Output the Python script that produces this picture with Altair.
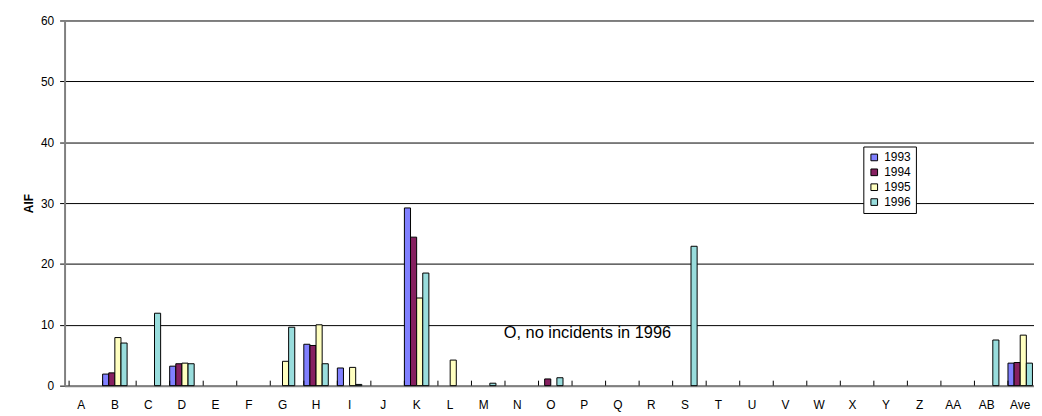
import altair as alt
import pandas as pd

categories = list("ABCDEFGHIJKLMNOPQRSTUVWXYZ") + ["AA", "AB", "Ave"]
years = ["1993", "1994", "1995", "1996"]
colors = ["#8080FF", "#862060", "#FFFFC0", "#99DDDD"]

#          A     B     C     D     E     F     G     H     I     J     K     L     M     N     O     P     Q     R     S     T     U     V     W     X     Y     Z     AA    AB    Ave
v1993 = [None, 1.9, None, 3.2, None, None, None, 6.8, 2.9, None, 29.2, None, None, None, None, None, None, None, None, None, None, None, None, None, None, None, None, None, 3.7]
v1994 = [None, 2.1, None, 3.6, None, None, None, 6.6, None, None, 24.4, None, None, None, 1.1, None, None, None, None, None, None, None, None, None, None, None, None, None, 3.8]
v1995 = [None, 7.9, None, 3.7, None, None, 4.0, 10.0, 3.0, None, 14.4, 4.2, None, None, None, None, None, None, None, None, None, None, None, None, None, None, None, None, 8.3]
v1996 = [None, 7.0, 11.9, 3.6, None, None, 9.6, 3.6, 0.2, None, 18.5, None, 0.4, None, 1.3, None, None, None, 22.9, None, None, None, None, None, None, None, None, 7.5, 3.7]

note_text = "O, no incidents in 1996"

rows = []
for yr, vals in zip(years, [v1993, v1994, v1995, v1996]):
    for c, v in zip(categories, vals):
        if v is not None:
            rows.append({"cat": c, "year": yr, "AIF": v})
df = pd.DataFrame(rows)
cat_df = pd.DataFrame({"cat": categories})

FONT = "Liberation Sans"

xscale = alt.Scale(domain=categories, range=[0, 980], paddingInner=0.27, paddingOuter=0.135)
xaxis = alt.Axis(title=None, labelAngle=0, ticks=False, domainColor="#808080",
                 domainWidth=2, labelPadding=14, labelFontSize=12, labelFont=FONT,
                 labelColor="black", grid=False)

bars = alt.Chart(df).mark_bar(stroke="black", strokeWidth=1).encode(
    x=alt.X("cat:N", sort=categories, scale=xscale, axis=xaxis),
    xOffset=alt.XOffset("year:N", sort=years, scale=alt.Scale(paddingInner=0, paddingOuter=0)),
    y=alt.Y("AIF:Q", scale=alt.Scale(domain=[0, 60], nice=False),
            axis=alt.Axis(title="AIF", values=[0, 10, 20, 30, 40, 50, 60], grid=True,
                          gridColor="black", gridWidth=1, domainColor="#808080", domainWidth=2,
                          tickColor="black", tickSize=5, labelPadding=6, labelFontSize=12,
                          labelFont=FONT, labelColor="black", titleFont=FONT, titleFontSize=12,
                          titleFontWeight="bold", titleColor="black", titlePadding=5)),
    color=alt.Color("year:N", sort=years, scale=alt.Scale(domain=years, range=colors),
                    legend=alt.Legend(title=None, orient="none", legendX=805, legendY=127,
                                      strokeColor="black", fillColor="white", padding=5,
                                      symbolType="square", symbolSize=45,
                                      symbolStrokeColor="black", symbolStrokeWidth=1,
                                      labelFont=FONT, labelFontSize=12, labelColor="black",
                                      rowPadding=3)),
)

ticks = alt.Chart(cat_df).mark_rule(color="black", strokeWidth=1).encode(
    x=alt.X("cat:N", sort=categories, scale=xscale, bandPosition=0, axis=xaxis),
    y=alt.value(363),
    y2=alt.value(368),
)

note = alt.Chart(pd.DataFrame({"t": [note_text]})).mark_text(
    font=FONT, fontSize=16.5, color="black", align="center", baseline="middle"
).encode(text="t:N", x=alt.value(527), y=alt.value(315))

chart = alt.layer(bars, ticks, note).properties(
    width=977, height=368,
    autosize=alt.AutoSizeParams(type="none"),
    padding={"left": 57, "top": 11, "right": 0, "bottom": 29},
    background="white",
).configure_view(stroke=None)

chart.save("out.html", embed_options={"renderer": "svg", "actions": False})
